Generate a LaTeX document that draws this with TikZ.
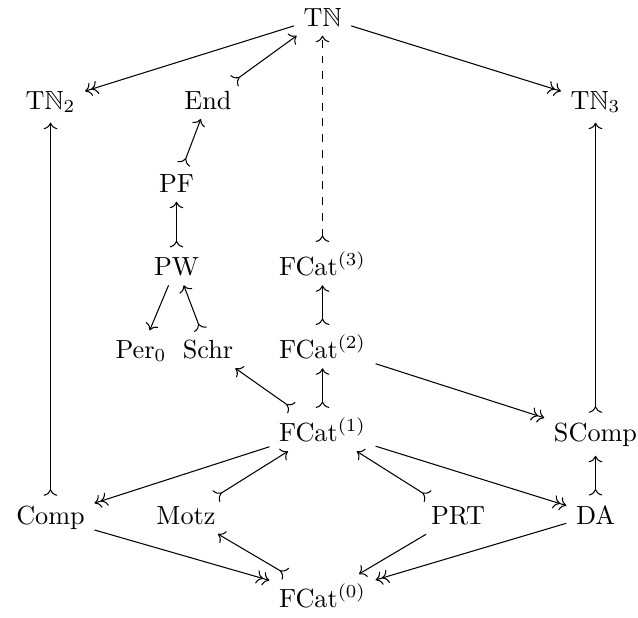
\documentclass[tikz,border=0pt]{standalone}
\usepackage{amssymb}
\usepackage{amsmath}
\usepackage{tikz}
\usetikzlibrary{arrows.meta}
\tikzstyle{obj}=[inner sep=3.5pt, anchor=base]
\tikzstyle{arrow}=[draw=black, >={Computer Modern Rightarrow}]
\tikzstyle{mono}=[arrow, >->]
\tikzstyle{epi}=[arrow, ->>]
\tikzstyle{map}=[arrow, ->]

\begin{document}
\begin{tikzpicture}[x=0.0134cm, y=-0.0134cm]
		   \useasboundingbox (0,0) rectangle (638,617);
		   \begin{scope}
			   \node (TN) at (322.5, 26)[obj] {T$\mathbb{N}$};
			   \node (TNtwo) at (50.5, 109)[obj] {T$\mathbb{N}_2$};
			   \node (End) at (208, 109)[obj] {End};
			   \node (TNthree) at (595.5, 109)[obj] {T$\mathbb{N}_3$};
			   \node (PF) at (176.5, 192)[obj] {PF};
			   \node (PW) at (176.5, 275)[obj] {PW};
			   \node (Fthree) at (322.5, 275)[obj] {FCat$^{(3)}$};
			   \node (Per) at (141, 358)[obj] {Per$_0$};
			   \node (Schr) at (208, 358)[obj] {Schr};
			   \node (Ftwo) at (322.5, 358)[obj] {FCat$^{(2)}$};
			   \node (Fone) at (322.5, 441)[obj] {FCat$^{(1)}$};
			   \node (SComp) at (595.5, 441)[obj] {SComp};
			   \node (Comp) at (50.5, 524)[obj] {Comp};
			   \node (Motz) at (186, 524)[obj] {Motz};
			   \node (PRT) at (458, 524)[obj] {PRT};
			   \node (DA) at (595.5, 524)[obj] {DA};
			   \node (Fzero) at (322.5, 607)[obj] {FCat$^{(0)}$};
		   \end{scope}
		   \begin{scope}
			   \path [epi] (TN) edge (TNtwo);
			   \path [epi] (TN) edge (TNthree);
			   \path [mono] (End) edge (TN);
			   \path [mono, dashed] (Fthree) edge (TN);
			   \path [mono] (PF) edge (End);
			   \path [mono] (PW) edge (PF);
			   \path [map] (PW) edge (Per);
			   \path [mono] (Schr) edge (PW);
			   \path [mono] (Ftwo) edge (Fthree);
			   \path [mono] (Fone) edge (Ftwo);
			   \path [mono] (Fone) edge (Schr);
			   \path [epi] (Ftwo) edge (SComp);
			   \path [mono] (SComp) edge (TNthree);
			   \path [mono] (Comp) edge (TNtwo);
			   \path [mono] (DA) edge (SComp);
			   \path [epi] (Fone) edge (Comp);
			   \path [mono] (Motz) edge (Fone);
			   \path [mono] (PRT) edge (Fone);
			   \path [epi] (Fone) edge (DA);
			   \path [epi] (Comp) edge (Fzero);
			   \path [mono] (Fzero) edge (Motz);
			   \path [map] (PRT) edge (Fzero);
			   \path [epi] (DA) edge (Fzero);
		   \end{scope}
	   \end{tikzpicture}
\end{document}
